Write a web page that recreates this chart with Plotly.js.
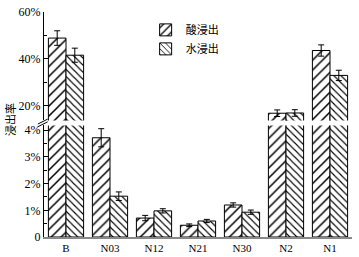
<!DOCTYPE html>
<html>
<head>
<meta charset="utf-8">
<script src="https://cdn.plot.ly/plotly-3.0.1.min.js"></script>
<style>html,body{margin:0;padding:0;background:#fff;}#chart{width:359px;height:257px;}</style>
</head>
<body>
<div id="chart"></div>
<script>
var categories = ["B", "N03", "N12", "N21", "N30", "N2", "N1"];
var acidValues = [48.9, 3.72, 0.71, 0.44, 1.2, 16.9, 43.6];
var acidErrors = [3.1, 0.34, 0.1, 0.05, 0.08, 1.4, 2.4];
var waterValues = [41.6, 1.53, 0.98, 0.6, 0.93, 17.0, 33.0];
var waterErrors = [3.0, 0.16, 0.08, 0.06, 0.08, 1.4, 2.2];
var seriesNames = ["酸浸出", "水浸出"];
var lowerTickVals = [0, 1, 2, 3, 4];
var lowerTickText = ["0", "1%", "2%", "3%", "4%"];
var upperTickVals = [20, 40, 60];
var upperTickText = ["20%", "40%", "60%"];

var serif = "Liberation Serif, Times New Roman, Noto Sans CJK SC, serif";

function bar(name, vals, errs, shape, size, yax, showLeg) {
  return {
    type: "bar", name: name, x: categories, y: vals, yaxis: yax, xaxis: "x",
    showlegend: showLeg, legendgroup: name,
    marker: {color: "white", line: {color: "black", width: 1},
      pattern: {shape: shape, fgcolor: "black", bgcolor: "white", size: size, solidity: 0.22}},
    error_y: {type: "data", array: errs, visible: true, color: "black", thickness: 1, width: 3},
    cliponaxis: true
  };
}

var data = [
  bar(seriesNames[0], acidValues, acidErrors, "/", 7, "y", true),
  bar(seriesNames[1], waterValues, waterErrors, "\\", 5, "y", true),
  bar(seriesNames[0], acidValues, acidErrors, "/", 7, "y2", false),
  bar(seriesNames[1], waterValues, waterErrors, "\\", 5, "y2", false)
];

var layout = {
  width: 359, height: 257,
  margin: {l: 44, r: 7, t: 12, b: 20},
  paper_bgcolor: "white", plot_bgcolor: "white",
  barmode: "group", bargap: 0.2, bargroupgap: 0,
  font: {family: serif, size: 11, color: "black"},
  showlegend: true,
  legend: {x: 0.33, y: 0.985, xanchor: "left", yanchor: "top",
    font: {family: "Noto Sans CJK SC, sans-serif", size: 11, color: "black"},
    bgcolor: "rgba(0,0,0,0)", tracegroupgap: 0, itemwidth: 30},
  xaxis: {type: "category", anchor: "y", showline: true, linecolor: "#888", linewidth: 2,
    ticks: "", showgrid: false, zeroline: false, tickfont: {family: serif, size: 11},
    fixedrange: true},
  yaxis: {domain: [0, 0.4956], range: [0, 4.18], anchor: "x", showline: true,
    linecolor: "black", linewidth: 1, showgrid: false, zeroline: false,
    tickmode: "array", tickvals: lowerTickVals, ticktext: lowerTickText,
    ticks: "inside", ticklen: 5, tickcolor: "black", tickwidth: 1,
    minor: {dtick: 0.5, tick0: 0, ticks: "inside", ticklen: 3, tickcolor: "black", showgrid: false},
    tickfont: {family: serif, size: 12}},
  yaxis2: {domain: [0.5178, 1], range: [13.8, 60], anchor: "x", showline: true,
    linecolor: "black", linewidth: 1, showgrid: false, zeroline: false,
    tickmode: "array", tickvals: upperTickVals, ticktext: upperTickText,
    ticks: "inside", ticklen: 5, tickcolor: "black", tickwidth: 1,
    minor: {dtick: 10, tick0: 0, ticks: "inside", ticklen: 3, tickcolor: "black", showgrid: false},
    tickfont: {family: serif, size: 12}},
  annotations: [{
    text: "浸出率", xref: "paper", yref: "paper", x: -0.11, y: 0.52,
    xanchor: "center", yanchor: "middle", showarrow: false, textangle: -90,
    font: {family: "Noto Sans CJK SC, sans-serif", size: 11, color: "black"}
  }],
  shapes: [
    {type: "line", xref: "paper", yref: "paper", x0: -0.02, x1: 0.012, y0: 0.49, y1: 0.512,
      line: {color: "black", width: 1}},
    {type: "line", xref: "paper", yref: "paper", x0: -0.02, x1: 0.012, y0: 0.502, y1: 0.524,
      line: {color: "black", width: 1}}
  ]
};

Plotly.newPlot("chart", data, layout, {displayModeBar: false, staticPlot: true});
</script>
</body>
</html>
